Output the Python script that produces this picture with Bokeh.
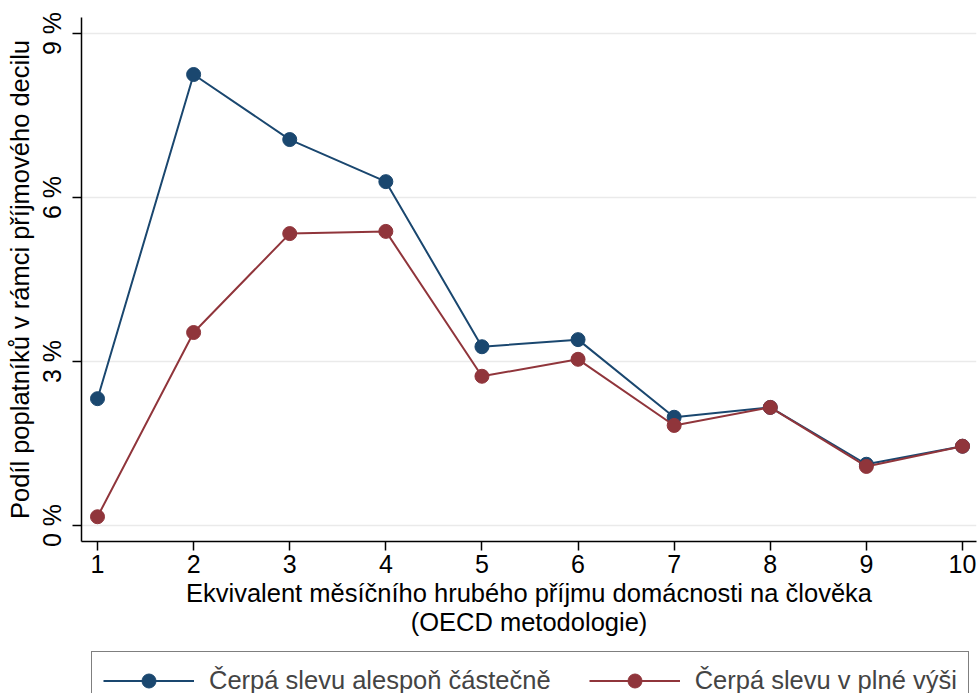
from bokeh.plotting import figure
from bokeh.layouts import column
from bokeh.models import Range1d, FixedTicker, Legend, LegendItem, GlobalInlineStyleSheet
from bokeh.embed import file_html
from bokeh.resources import INLINE

decile = [1, 2, 3, 4, 5, 6, 7, 8, 9, 10]
partial_share = [2.32, 8.25, 7.06, 6.29, 3.27, 3.40, 1.98, 2.16, 1.12, 1.45]
full_share = [0.16, 3.53, 5.34, 5.38, 2.73, 3.04, 1.83, 2.16, 1.08, 1.45]
y_ticks = [0, 3, 6, 9]
y_tick_labels = ["0 %", "3 %", "6 %", "9 %"]
label_partial = "Čerpá slevu alespoň částečně"
label_full = "Čerpá slevu v plné výši"

blue = "#1a476f"
red = "#90353b"
font = "Liberation Sans"

fig = figure(
    width=979, height=651,
    min_border_left=81, min_border_right=3,
    min_border_top=17, min_border_bottom=110,
    x_range=Range1d(0.8335, 10.1457),
    y_range=Range1d(-0.293, 9.293),
    x_axis_label="Ekvivalent měsíčního hrubého příjmu domácnosti na člověka\n(OECD metodologie)",
    y_axis_label="Podíl poplatníků v rámci příjmového decilu",
    toolbar_location=None,
    output_backend="svg")

fig.outline_line_color = None
fig.xgrid.grid_line_color = None
fig.ygrid.grid_line_color = "#eaeaea"
fig.ygrid.grid_line_width = 1.5

for ax in (fig.xaxis[0], fig.yaxis[0]):
    ax.axis_line_color = "black"
    ax.axis_line_width = 1.5
    ax.major_tick_line_color = "black"
    ax.major_tick_line_width = 1.5
    ax.major_tick_in = 0
    ax.major_tick_out = 9
    ax.minor_tick_line_color = None
    ax.major_label_text_font = font
    ax.major_label_text_font_size = "25px"
    ax.major_label_text_color = "black"
    ax.axis_label_text_font = font
    ax.axis_label_text_font_size = "25.5px"
    ax.axis_label_text_font_style = "normal"
    ax.axis_label_text_color = "black"

fig.xaxis.ticker = FixedTicker(ticks=decile)
fig.xaxis.major_label_standoff = 4
fig.xaxis.axis_label_standoff = 3
fig.xaxis.axis_label_text_line_height = 1.05

fig.yaxis.ticker = FixedTicker(ticks=y_ticks)
fig.yaxis.major_label_overrides = dict(zip(y_ticks, y_tick_labels))
fig.yaxis.major_label_orientation = "vertical"
fig.yaxis.major_label_standoff = 6
fig.yaxis.axis_label_standoff = 2

fig.line(decile, partial_share, line_color=blue, line_width=2)
fig.scatter(decile, partial_share, size=14, fill_color=blue, line_color=blue)
fig.line(decile, full_share, line_color=red, line_width=2)
fig.scatter(decile, full_share, size=14, fill_color=red, line_color=red)

# legend strip below the chart, cut off at the bottom edge like the original.
# the series are drawn here off-range, only so the legend has glyphs to show
leg = figure(
    width=979, height=42,
    min_border_left=0, min_border_right=0, min_border_top=0, min_border_bottom=0,
    x_range=Range1d(-2, -1), y_range=Range1d(-2, -1),
    x_axis_type=None, y_axis_type=None,
    toolbar_location=None,
    output_backend="svg")
leg.outline_line_color = None
leg.xgrid.grid_line_color = None
leg.ygrid.grid_line_color = None

l1 = leg.line(decile, partial_share, line_color=blue, line_width=2)
s1 = leg.scatter(decile, partial_share, size=14, fill_color=blue, line_color=blue)
l2 = leg.line(decile, full_share, line_color=red, line_width=2)
s2 = leg.scatter(decile, full_share, size=14, fill_color=red, line_color=red)

legend = Legend(
    items=[LegendItem(label=label_partial, renderers=[l1, s1]),
           LegendItem(label=label_full, renderers=[l2, s2])],
    orientation="horizontal",
    location=(10, -17),
    glyph_width=91, glyph_height=35, label_height=29,
    label_standoff=15, spacing=38, padding=11, margin=0,
    label_text_font=font, label_text_font_size="25.5px",
    border_line_color="black", border_line_width=1.5,
    background_fill_color="white", background_fill_alpha=1)
leg.add_layout(legend, "center")

p = column(fig, leg, spacing=0,
           stylesheets=[GlobalInlineStyleSheet(css="body { margin: 0; }")])

open("out.html", "w").write(file_html(p, INLINE))
